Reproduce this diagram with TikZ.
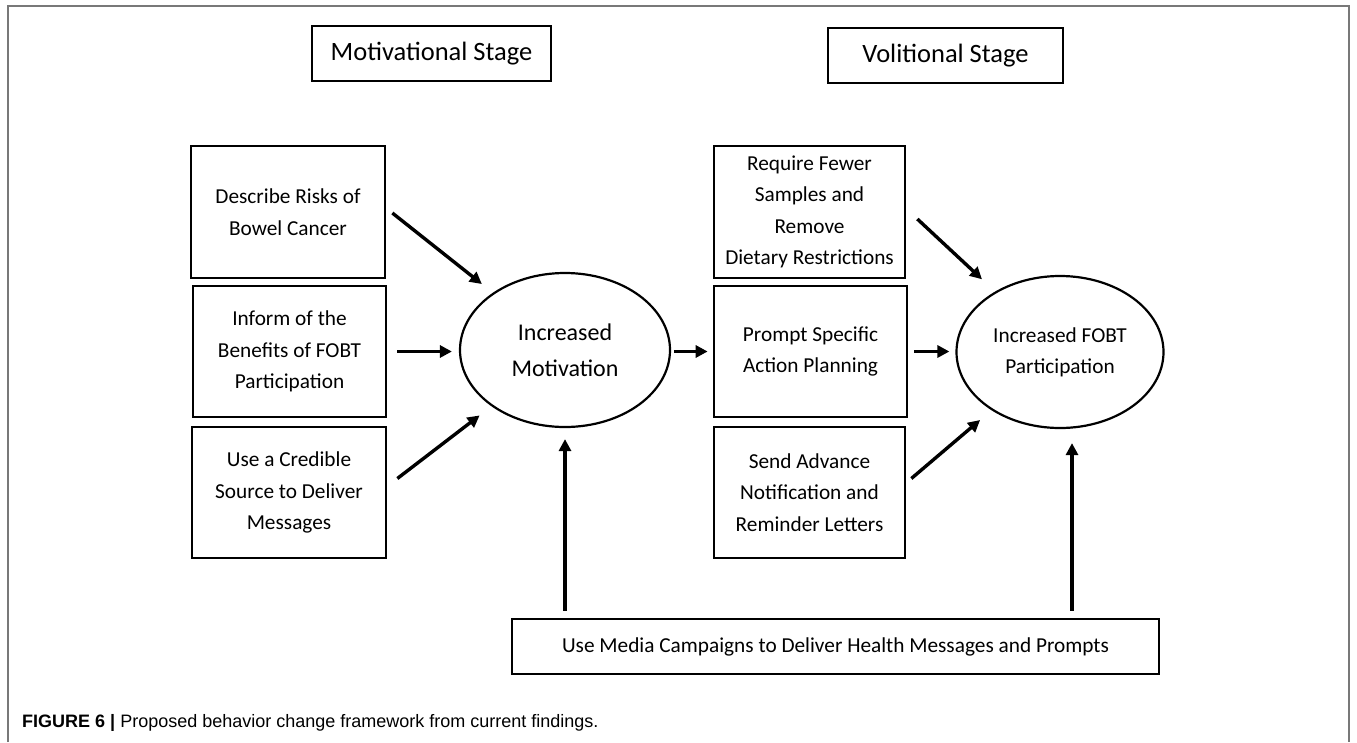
\documentclass[tikz,border=0pt]{standalone}
\usepackage{fontspec}
\setmainfont{Carlito}
\newfontfamily\capfont{Liberation Sans}
\usetikzlibrary{arrows.meta,shapes.geometric,calc}
\definecolor{framegray}{RGB}{120,120,120}
\begin{document}
\begin{tikzpicture}[x=1pt,y=-1pt,
  box/.style={draw,line width=2.7pt,inner sep=0pt,align=center,
    font=\fontsize{21.3}{31.5}\selectfont},
  titlebox/.style={draw,line width=2.7pt,inner sep=0pt,
    font=\fontsize{26.5}{30}\selectfont},
  oval/.style={draw,ellipse,line width=2.2pt,inner sep=0pt,align=center},
  arr/.style={line width=3.4pt,-{Triangle[length=12pt,width=12pt]}}]
\useasboundingbox (0,0) rectangle (1357,742);
\draw[framegray,line width=1.5pt] (8,742) -- (8,6) -- (1349,6) -- (1349,742);

\node[titlebox,minimum width=239pt,minimum height=55pt] (mot) at (431.5,53.5) {Motivational Stage};
\node[titlebox,minimum width=235pt,minimum height=55pt] (vol) at (945.5,55.5) {Volitional Stage};

\node[box,minimum width=194pt,minimum height=132pt] (describe) at (288,212) {Describe Risks of\\Bowel Cancer};
\node[box,minimum width=193pt,minimum height=131pt] (inform) at (289.5,351.5) {Inform of the\\Benefits of FOBT\\Participation};
\node[box,minimum width=194pt,minimum height=131pt] (credible) at (289,492.5) {Use a Credible\\Source to Deliver\\Messages};

\node[box,minimum width=191pt,minimum height=132pt] (require) at (809.5,212) {Require Fewer\\Samples and\\Remove\\Dietary Restrictions};
\node[box,minimum width=193pt,minimum height=131pt] (prompt) at (810.5,351.5) {Prompt Specific\\Action Planning};
\node[box,minimum width=191pt,minimum height=131pt] (send) at (809.5,492.5) {Send Advance\\Notification and\\Reminder Letters};

\node[oval,minimum width=210pt,minimum height=154pt,font=\fontsize{24}{36}\selectfont] (motiv) at (565,350) {Increased\\Motivation};
\node[oval,minimum width=207pt,minimum height=152pt,font=\fontsize{21.3}{31}\selectfont] (fobt) at (1060,352) {Increased FOBT\\Participation};

\node[box,minimum width=647pt,minimum height=55pt] (media) at (835.5,646.5) {Use Media Campaigns to Deliver Health Messages and Prompts};

% arrows into Increased Motivation
\draw[arr,shorten >=14pt] ($(describe.east)+(6,1)$) -- (motiv);
\draw[arr,shorten <=10pt,shorten >=7pt] (inform.east) -- (motiv.west |- inform.east);
\draw[arr,shorten >=15pt] ($(credible.east)+(10,-14)$) -- (motiv);
\draw[arr,shorten <=7pt,shorten >=11pt] (media.north -| motiv.south) -- (motiv.south);

% motivation to prompt
\draw[arr,shorten <=3pt,shorten >=5pt] (motiv.east |- prompt.west) -- (prompt.west);

% arrows into Increased FOBT Participation
\draw[arr,shorten >=18pt] ($(require.east)+(11,7)$) -- (fobt);
\draw[arr,shorten <=6pt,shorten >=6pt] (prompt.east) -- (fobt.west |- prompt.east);
\draw[arr,shorten >=15pt] ($(send.east)+(5,-14)$) -- (fobt);
\draw[arr,shorten <=7pt,shorten >=14pt] ([xshift=12pt]fobt.south |- media.north) -- ([xshift=12pt]fobt.south);

\node[anchor=base west,inner sep=0pt,font=\capfont\fontsize{18}{20}\selectfont] (caption) at (22,727) {\textbf{FIGURE 6 |} Proposed behavior change framework from current findings.};
\end{tikzpicture}
\end{document}
